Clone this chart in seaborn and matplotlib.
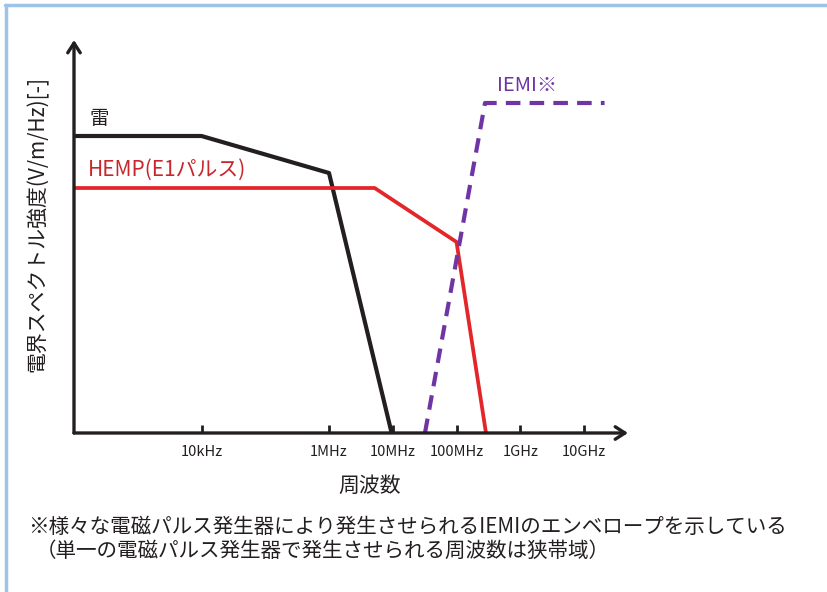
#%% 電界スペクトル強度の比較（雷・HEMP・IEMI）

import matplotlib
matplotlib.use('Agg')
import matplotlib.pyplot as plt
import seaborn as sns

#%% データ（周波数[Hz] と 相対強度[-]）

freq_rai = [1e2, 1e4, 1e6, 9.6e6]
level_rai = [2.97, 2.97, 2.60, 0.0]

freq_hemp = [1e2, 5.2e6, 1e8, 2.9e8]
level_hemp = [2.45, 2.45, 1.91, 0.0]

freq_iemi = [3.2e7, 2.8e8, 2.1e10]
level_iemi = [0.0, 3.30, 3.30]

tick_freqs = [1e4, 1e6, 1e7, 1e8, 1e9, 1e10]
tick_labels = ['10kHz', '1MHz', '10MHz', '100MHz', '1GHz', '10GHz']

#%% スタイル

sns.set_style('white')
plt.rcParams['font.family'] = ['Noto Sans CJK JP', 'DejaVu Sans']

W, H = 828, 592
fig = plt.figure(figsize=(W / 100, H / 100), dpi=100)
ax = fig.add_axes([74 / W, (H - 433) / H, (628 - 74) / W, (433 - 40) / H])

#%% 線

sns.lineplot(x=freq_rai, y=level_rai, ax=ax, color='#231f20', linewidth=3.0)
sns.lineplot(x=freq_hemp, y=level_hemp, ax=ax, color='#e3262a', linewidth=2.7)
sns.lineplot(x=freq_iemi, y=level_iemi, ax=ax, color='#6f35a5', linewidth=3.0,
             linestyle=(0, (3.5, 2.2)))

ax.set_xscale('log')
ax.set_xlim(1e2, 10 ** 10.69)
ax.set_ylim(0, 3.93)
ax.minorticks_off()
ax.set_xticks(tick_freqs)
ax.set_xticklabels(tick_labels, fontsize=10.5, color='#231f20')
ax.set_yticks([])
ax.tick_params(axis='x', bottom=True, direction='in', length=6, width=2,
               color='#231f20', pad=9)
for s in ax.spines.values():
    s.set_visible(False)

# 軸（矢印）
arrow = dict(arrowstyle='->,head_length=0.7,head_width=0.45', lw=2.4, color='#231f20',
             shrinkA=0, shrinkB=0)
ax.annotate('', xy=(1.0, 0), xytext=(0, 0), xycoords='axes fraction', arrowprops=arrow,
            annotation_clip=False)
ax.annotate('', xy=(0, 1.0), xytext=(0, 0), xycoords='axes fraction', arrowprops=arrow,
            annotation_clip=False)

#%% ラベル

ax.text(90 / W, 1 - 118 / H, '雷', transform=fig.transFigure, fontsize=14,
        color='#231f20', va='center', ha='left')
ax.text(88 / W, 1 - 170 / H, 'HEMP(E1パルス)', transform=fig.transFigure, fontsize=15,
        color='#c8262b', va='center', ha='left')
ax.text(497 / W, 1 - 85 / H, 'IEMI※', transform=fig.transFigure, fontsize=14.5,
        color='#6f35a5', va='center', ha='left')

fig.text(38 / W, 1 - 224 / H, '電界スペクトル強度(V/m/Hz)[-]', rotation=90,
         fontsize=15, color='#231f20', ha='center', va='center')
fig.text(370 / W, 1 - 486 / H, '周波数', fontsize=15, color='#231f20',
         ha='center', va='center')

fig.text(28 / W, 1 - 527 / H,
         '※様々な電磁パルス発生器により発生させられるIEMIのエンベロープを示している',
         fontsize=14.8, color='#231f20', ha='left', va='center')
fig.text(36 / W, 1 - 551 / H,
         '（単一の電磁パルス発生器で発生させられる周波数は狭帯域）',
         fontsize=14.8, color='#231f20', ha='left', va='center')

# 枠線（上・左）
fig.add_artist(plt.Line2D([5 / W, 1], [1 - 4.5 / H, 1 - 4.5 / H], color='#9dc3e6',
                          linewidth=2.5, transform=fig.transFigure))
fig.add_artist(plt.Line2D([6.5 / W, 6.5 / W], [0, 1 - 4.5 / H], color='#9dc3e6',
                          linewidth=2.5, transform=fig.transFigure))

fig.savefig('out.png', dpi=100, facecolor='white')
